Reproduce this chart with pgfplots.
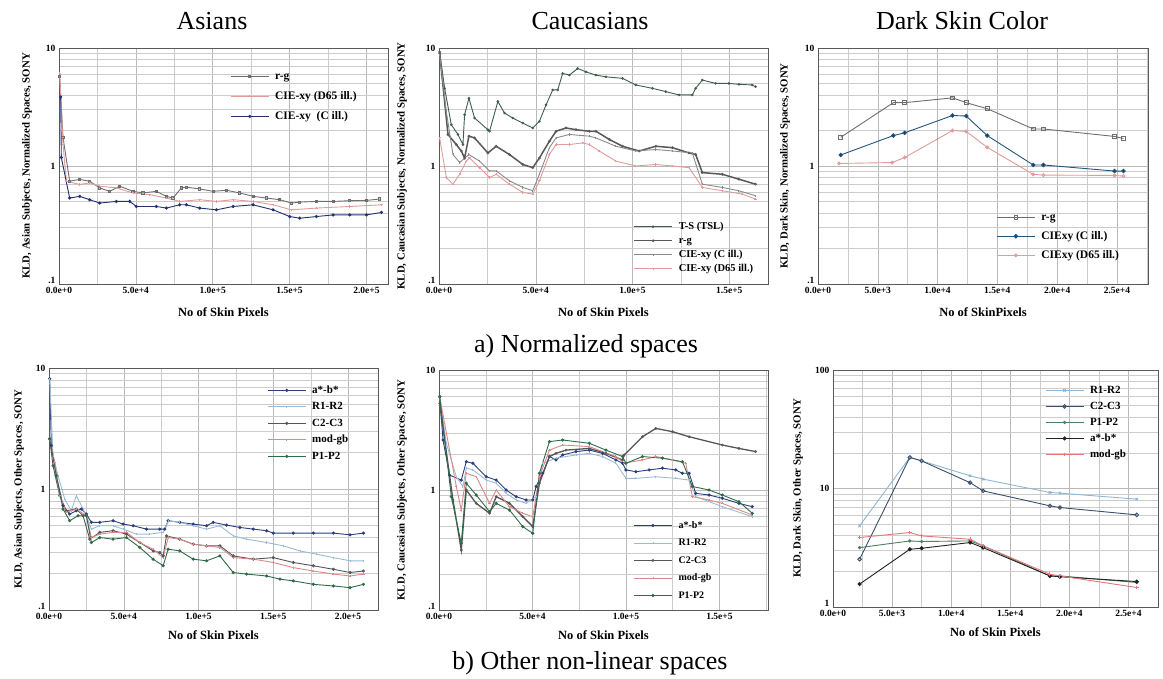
\documentclass[border=0pt]{standalone}
\usepackage{pgfplots}
\pgfplotsset{compat=1.18}
\usepackage{fontspec}
\setmainfont{Liberation Serif}
\definecolor{rgc}{HTML}{6E6E6E}
\definecolor{pinkc}{HTML}{E39A9A}
\definecolor{navyc}{HTML}{22306E}
\definecolor{tsc}{HTML}{3F5E4E}
\definecolor{cillg}{HTML}{8A8A8A}
\definecolor{tealc}{HTML}{23577A}
\definecolor{abc}{HTML}{2B3F7C}
\definecolor{rrc}{HTML}{9CBAD6}
\definecolor{ccc}{HTML}{555555}
\definecolor{modc}{HTML}{D98A8A}
\definecolor{ppc}{HTML}{2E6B47}
\definecolor{brr}{HTML}{8EB6D6}
\definecolor{bcc}{HTML}{3C4E6A}
\definecolor{bpp}{HTML}{4E7D5F}
\definecolor{bab}{HTML}{222222}
\definecolor{bmod}{HTML}{E07878}
\pgfplotsset{/pgf/number format/assume math mode=true}
\pgfplotsset{
 kld/.style={
   scale only axis, anchor=south west,
   axis line style={gray!70!black, line width=0.6pt},
   xmajorgrids, xminorgrids, ymajorgrids, yminorgrids,
   major grid style={gray!55, line width=0.5pt},
   minor grid style={gray!40, line width=0.4pt},
   major tick length=0pt, minor tick length=0pt,
   tick label style={font=\fontsize{9.5}{10}\selectfont\bfseries},
   xlabel style={font=\fontsize{12.5}{13}\selectfont\bfseries, at={(rel axis cs:0.5,0)}, anchor=center},
   ylabel style={font=\fontsize{10.8}{11}\selectfont\bfseries, at={(rel axis cs:0,0.5)}, anchor=center},
   scaled x ticks=false,
   legend cell align=left,
   legend style={draw=none, fill=none, anchor=north west, inner sep=0pt,
     nodes={text height=8pt, text depth=2.5pt, inner sep=1pt},
     /tikz/every odd column/.append style={column sep=5pt}},
   legend image code/.code={\draw[mark repeat=2,mark phase=2] plot coordinates {(0pt,0pt) (19pt,0pt) (38pt,0pt)};},
   every axis plot/.append style={line width=0.9pt, mark size=1.1pt},
 },
 dec01/.style={ymin=0.1, ymax=10, ytick={0.1,1,10}, yticklabels={\raisebox{7pt}{.1},1,10},
   minor ytick={0.2,0.3,0.4,0.5,0.6,0.7,0.8,0.9,2,3,4,5,6,7,8,9}},
}
\begin{document}
\begin{tikzpicture}
\path[use as bounding box] (0,0) rectangle (1163pt,679pt);
\node[font=\fontsize{26}{28}\selectfont, anchor=base] at (212pt,649pt) {Asians};
\node[font=\fontsize{26}{28}\selectfont, anchor=base] at (590pt,649pt) {Caucasians};
\node[font=\fontsize{26}{28}\selectfont, anchor=base] at (962pt,649pt) {Dark Skin Color};
\node[font=\fontsize{26}{28}\selectfont, anchor=base] at (586pt,326pt) {a) Normalized spaces};
\node[font=\fontsize{26}{28}\selectfont, anchor=base] at (590pt,9pt) {b) Other non-linear spaces};

% ---------------- TL
\begin{semilogyaxis}[kld, dec01, at={(59pt,395pt)}, width=329pt, height=236pt,
  xmin=0, xmax=214000,
  xtick={0,50000,100000,150000,200000},
  xticklabels={0.0e+0,5.0e+4,1.0e+5,1.5e+5,2.0e+5},
  minor xtick={25000,75000,125000,175000},
  xlabel={No of Skin Pixels}, xlabel style={yshift=-28pt},
  ylabel={KLD, Asian Subjects, Normalized Spaces, SONY}, ylabel style={yshift=32pt},
  legend style={at={(0.52,0.907)}, font=\fontsize{11.5}{12}\selectfont\bfseries, row sep=7.5pt}]
\addplot[color=rgc, mark=square, mark options={fill=white}] coordinates {
(434,5.71) (2603,1.75) (6941,0.744) (13448,0.769) (19955,0.744) (26462,0.652) (32969,0.61) (39476,0.674) (48152,0.61) (54659,0.591) (63335,0.61) (69842,0.553) (74180,0.535) (79602,0.652) (82856,0.661) (91532,0.639) (100208,0.61) (108884,0.623) (117560,0.591) (126236,0.553) (134912,0.535) (143588,0.518) (151180,0.485) (156602,0.494) (167447,0.501) (178292,0.501) (189137,0.508) (199982,0.511) (208658,0.525)};
\addlegendentry{r-g}
\addplot[color=pinkc, mark=+] coordinates {
(434,6.11) (2603,1.53) (4772,0.744) (13448,0.697) (19955,0.72) (26462,0.674) (37307,0.652) (48152,0.591) (58997,0.572) (69842,0.535) (78518,0.501) (91532,0.518) (102377,0.501) (113222,0.518) (126236,0.501) (139250,0.469) (151180,0.425) (167447,0.44) (189137,0.454) (209742,0.469)};
\addlegendentry{CIE-xy (D65 ill.)}
\addplot[color=navyc, mark=*] coordinates {
(1085,3.85) (1518,1.18) (6941,0.535) (13448,0.553) (19955,0.518) (26462,0.485) (37307,0.501) (45983,0.501) (50321,0.454) (63335,0.454) (69842,0.44) (78518,0.469) (82856,0.469) (91532,0.44) (102377,0.425) (113222,0.454) (126236,0.469) (139250,0.425) (150095,0.373) (156602,0.361) (167447,0.373) (178292,0.385) (189137,0.385) (199982,0.385) (209742,0.404)};
\addlegendentry{CIE-xy\ \ (C ill.)}
\end{semilogyaxis}

% ---------------- TM
\begin{semilogyaxis}[kld, dec01, at={(439pt,395pt)}, width=329pt, height=236pt,
  xmin=0, xmax=170000,
  xtick={0,50000,100000,150000},
  xticklabels={0.0e+0,5.0e+4,1.0e+5,1.5e+5},
  minor xtick={25000,75000,125000},
  xlabel={No of Skin Pixels}, xlabel style={yshift=-28pt},
  ylabel={KLD, Caucasian Subjects, Normalized Spaces, SONY}, ylabel style={yshift=37pt},
  legend style={at={(0.59,0.27)}, font=\fontsize{10.5}{11}\selectfont\bfseries, row sep=1.5pt}]
\addplot[color=tsc, mark=*, mark size=0.8pt] coordinates {
(344,9.25) (2921,4.55) (6357,2.24) (9793,1.85) (12370,1.52) (13229,2.72) (15462,3.75) (18383,2.55) (25255,2.03) (26114,1.97) (30409,3.52) (33845,2.81) (38140,2.55) (43294,2.31) (48448,2.10) (51884,2.39) (55320,3.30) (58756,4.41) (61333,4.41) (63910,6.09) (67346,5.89) (71641,6.70) (75936,6.28) (81090,5.89) (86244,5.70) (94834,5.53) (101706,4.86) (110296,4.55) (117168,4.27) (124040,4.00) (130912,4.00) (132630,4.55) (136066,5.35) (142938,5.01) (149810,5.01) (154964,4.92) (161836,4.86) (163554,4.70)};
\addlegendentry{T-S (TSL)}
\addplot[color=rgc!80!black, line width=1.5pt, mark=o, mark options={fill=white, line width=0.6pt}] coordinates {
(344,8.96) (4639,1.85) (8934,1.52) (11511,1.34) (13229,1.17) (15462,1.79) (18383,1.73) (25255,1.29) (29550,1.47) (36422,1.25) (43294,1.03) (48448,0.968) (51884,1.17) (57038,1.62) (60474,1.97) (65628,2.10) (70782,2.03) (77654,1.97) (81090,1.97) (87962,1.68) (94834,1.47) (103424,1.34) (112014,1.47) (120604,1.43) (129194,1.29) (132630,1.25) (136066,0.879) (146374,0.851) (154964,0.773) (163554,0.701)};
\addlegendentry{r-g}
\addplot[color=cillg, mark=|] coordinates {
(344,8.68) (3780,2.90) (7216,1.25) (10652,1.07) (15462,1.25) (20960,1.10) (26114,0.908) (29550,0.908) (36422,0.748) (43294,0.658) (48448,0.617) (51884,0.851) (57038,1.43) (60474,1.73) (67346,1.85) (77654,1.79) (81090,1.73) (91398,1.47) (101706,1.34) (112014,1.38) (120604,1.34) (130912,1.29) (136066,0.701) (146374,0.658) (154964,0.617) (163554,0.560)};
\addlegendentry{CIE-xy (C ill.)}
\addplot[color=pinkc, mark=+] coordinates {
(344,1.73) (3780,0.798) (7216,0.701) (10652,0.851) (14088,1.10) (15806,1.17) (20960,0.968) (26114,0.798) (29550,0.851) (36422,0.701) (43294,0.597) (48448,0.578) (51884,0.748) (57038,1.25) (60474,1.52) (67346,1.52) (74218,1.57) (77654,1.52) (82808,1.34) (91398,1.10) (101706,1.00) (112014,1.03) (120604,1.00) (129194,0.968) (136066,0.658) (146374,0.617) (156682,0.578) (163554,0.525)};
\addlegendentry{CIE-xy (D65 ill.)}
\end{semilogyaxis}

% ---------------- TR
\begin{semilogyaxis}[kld, dec01, at={(818pt,395pt)}, width=330pt, height=236pt,
  xmin=0, xmax=27600,
  xtick={0,5000,10000,15000,20000,25000},
  xticklabels={0.0e+0,5.0e+3,1.0e+4,1.5e+4,2.0e+4,2.5e+4},
  minor xtick={2500,7500,12500,17500,22500,27500},
  xlabel={No of SkinPixels}, xlabel style={yshift=-28pt},
  ylabel={KLD, Dark Skin, Normalized Spaces, SONY}, ylabel style={yshift=33pt},
  legend style={at={(0.54,0.31)}, font=\fontsize{11.5}{12}\selectfont\bfseries, row sep=6.5pt}]
\addplot[color=rgc, mark=square, mark size=1.8pt, mark options={fill=white}] coordinates {
(1900,1.75) (6300,3.44) (7250,3.44) (11250,3.78) (12400,3.44) (14150,3.06) (18000,2.06) (18850,2.06) (24800,1.78) (25550,1.71)};
\addlegendentry{r-g}
\addplot[color=tealc, mark=*, mark size=1.8pt, mark options={fill=navyc}] coordinates {
(1900,1.24) (6300,1.81) (7250,1.91) (11250,2.68) (12400,2.65) (14150,1.81) (18000,1.02) (18850,1.02) (24800,0.906) (25550,0.906)};
\addlegendentry{CIExy (C ill.)}
\addplot[color=pinkc, mark=o, mark size=1.5pt] coordinates {
(1750,1.05) (6200,1.07) (7250,1.18) (11250,2.00) (12400,1.96) (14150,1.44) (18000,0.849) (18850,0.837) (24800,0.832) (25550,0.821)};
\addlegendentry{CIExy (D65 ill.)}
\end{semilogyaxis}

% ---------------- BL
\begin{semilogyaxis}[kld, dec01, at={(49pt,69pt)}, width=329pt, height=242pt,
  xmin=0, xmax=220000,
  xtick={0,50000,100000,150000,200000},
  xticklabels={0.0e+0,5.0e+4,1.0e+5,1.5e+5,2.0e+5},
  minor xtick={25000,75000,125000,175000},
  xlabel={No of Skin Pixels}, xlabel style={yshift=-25pt},
  ylabel={KLD, Asian Subjects, Other Spaces, SONY}, ylabel style={yshift=30pt},
  legend style={at={(0.663,0.934)}, font=\fontsize{11}{12}\selectfont\bfseries, row sep=4pt}]
\addplot[color=abc, mark=*] coordinates {
(446,8.16) (1562,2.29) (4910,1.29) (9374,0.728) (13838,0.621) (18302,0.661) (21650,0.683) (24998,0.621) (28346,0.530) (33926,0.530) (42854,0.547) (49550,0.513) (56246,0.497) (65174,0.466) (74102,0.466) (77450,0.466) (79682,0.547) (87494,0.530) (96422,0.513) (105350,0.497) (109814,0.530) (118742,0.503) (127670,0.481) (136598,0.466) (145526,0.452) (149990,0.432) (163382,0.432) (176774,0.432) (190166,0.432) (201326,0.418) (210254,0.432)};
\addlegendentry{a*-b*}
\addplot[color=rrc, mark=|] coordinates {
(446,8.16) (2678,1.89) (6026,1.29) (10490,0.827) (14954,0.661) (18302,0.881) (24998,0.601) (28346,0.466) (33926,0.497) (42854,0.497) (49550,0.466) (58478,0.424) (67406,0.424) (76334,0.438) (79682,0.547) (87494,0.530) (96422,0.497) (105350,0.466) (114278,0.497) (123206,0.410) (132134,0.385) (145526,0.361) (156686,0.339) (167846,0.308) (179006,0.289) (190166,0.271) (201326,0.255) (210254,0.255)};
\addlegendentry{R1-R2}
\addplot[color=ccc, mark=o, mark options={fill=white}] coordinates {
(446,2.60) (2678,1.56) (7142,0.881) (11606,0.661) (18302,0.683) (22766,0.601) (27230,0.385) (33926,0.438) (42854,0.452) (51782,0.424) (60710,0.361) (69638,0.308) (74102,0.299) (76334,0.280) (78566,0.410) (87494,0.385) (96422,0.350) (105350,0.339) (114278,0.339) (123206,0.280) (136598,0.263) (149990,0.271) (163382,0.247) (176774,0.232) (190166,0.217) (201326,0.204) (210254,0.210)};
\addlegendentry{C2-C3}
\addplot[color=modc, mark=+] coordinates {
(446,2.60) (3794,1.66) (7142,0.881) (11606,0.641) (18302,0.683) (24998,0.601) (28346,0.397) (33926,0.424) (42854,0.438) (51782,0.438) (60710,0.361) (69638,0.318) (76334,0.271) (79682,0.397) (87494,0.385) (96422,0.350) (105350,0.339) (114278,0.329) (123206,0.271) (136598,0.263) (149990,0.247) (163382,0.224) (176774,0.210) (190166,0.198) (201326,0.191) (210254,0.198)};
\addlegendentry{mod-gb}
\addplot[color=ppc, mark=*] coordinates {
(446,2.60) (4910,1.29) (9374,0.683) (13838,0.547) (19418,0.601) (24998,0.601) (28346,0.361) (33926,0.397) (42854,0.385) (51782,0.397) (60710,0.329) (69638,0.263) (76334,0.232) (79682,0.318) (87494,0.308) (96422,0.263) (105350,0.255) (114278,0.280) (123206,0.204) (132134,0.198) (145526,0.191) (154454,0.180) (163382,0.174) (176774,0.163) (190166,0.158) (201326,0.153) (210254,0.163)};
\addlegendentry{P1-P2}
\end{semilogyaxis}

% ---------------- BM
\begin{semilogyaxis}[kld, dec01, at={(439pt,69pt)}, width=329pt, height=240pt,
  xmin=0, xmax=176000,
  xtick={0,50000,100000,150000},
  xticklabels={0.0e+0,5.0e+4,1.0e+5,1.5e+5},
  minor xtick={25000,75000,125000,175000},
  xlabel={No of Skin Pixels}, xlabel style={yshift=-25pt},
  ylabel={KLD, Caucasian Subjects, Other Spaces, SONY}, ylabel style={yshift=37pt},
  legend style={at={(0.59,0.379)}, font=\fontsize{10}{11}\selectfont\bfseries, row sep=5pt}]
\addplot[color=abc, mark=*] coordinates {
(356,6.00) (2135,2.61) (5693,1.33) (11919,1.21) (14588,1.72) (18146,1.67) (25262,1.29) (30599,1.21) (35936,1.00) (41273,0.880) (46610,0.826) (50168,0.826) (51947,1.07) (55505,1.38) (59063,1.90) (62621,1.78) (66179,1.96) (73295,2.09) (80411,2.15) (87527,2.02) (94644,1.78) (98202,1.67) (99981,1.47) (105317,1.42) (112434,1.47) (119550,1.52) (126667,1.47) (130224,1.38) (133783,1.38) (137342,0.938) (144458,0.908) (151570,0.853) (160460,0.774) (167580,0.726)};
\addlegendentry{a*-b*}
\addplot[color=rrc, mark=|] coordinates {
(356,6.00) (3914,2.45) (9251,1.29) (12809,1.07) (14588,1.52) (18146,1.47) (25262,1.21) (30599,1.14) (35936,0.938) (41273,0.826) (46610,0.774) (51947,0.880) (55505,1.67) (62621,1.84) (73295,1.96) (80411,2.02) (87527,1.90) (94644,1.67) (99981,1.25) (105317,1.25) (115992,1.29) (126667,1.25) (133783,1.21) (137342,0.880) (151570,0.726) (167580,0.599)};
\addlegendentry{R1-R2}
\addplot[color=ccc, line width=1.3pt, mark=o, mark options={fill=white, line width=0.6pt}] coordinates {
(356,5.27) (7472,0.826) (11919,0.316) (14588,1.00) (19925,0.774) (27041,0.640) (30599,0.880) (37715,0.774) (44831,0.599) (50168,0.495) (53726,1.14) (59063,1.90) (62621,2.02) (67958,2.15) (80411,2.22) (89306,2.02) (98202,1.78) (99091,1.96) (108875,2.78) (115992,3.26) (124888,3.06) (133783,2.78) (151570,2.37) (160460,2.22) (169360,2.09)};
\addlegendentry{C2-C3}
\addplot[color=modc, mark=+] coordinates {
(356,6.00) (9251,1.07) (11919,0.681) (14588,1.38) (19925,1.29) (27041,0.774) (30599,1.00) (37715,0.726) (44831,0.640) (50168,0.599) (53726,1.29) (59063,2.15) (66179,2.37) (80411,2.30) (94644,1.90) (99091,1.67) (108875,1.78) (115992,1.90) (124888,1.78) (132004,1.67) (135560,0.880) (144458,0.826) (151570,0.774) (167580,0.619)};
\addlegendentry{mod-gb}
\addplot[color=ppc, mark=*] coordinates {
(356,6.00) (6582,0.880) (11919,0.359) (14588,1.14) (19925,0.908) (27041,0.660) (30599,0.774) (37715,0.681) (44831,0.495) (50168,0.435) (53726,1.38) (59063,2.53) (66179,2.61) (80411,2.45) (89306,2.15) (98202,1.90) (99981,1.67) (108875,1.90) (119550,1.84) (130224,1.72) (135560,1.07) (144458,1.00) (151570,0.908) (160460,0.799) (167580,0.640)};
\addlegendentry{P1-P2}
\end{semilogyaxis}

% ---------------- BR
\begin{semilogyaxis}[kld, at={(833pt,72pt)}, width=325pt, height=237pt,
  ymin=1, ymax=100, ytick={1,10,100}, yticklabels={\raisebox{7pt}{1},10,100},
  minor ytick={2,3,4,5,6,7,8,9,20,30,40,50,60,70,80,90},
  xmin=0, xmax=27500,
  xtick={0,5000,10000,15000,20000,25000},
  xticklabels={0.0e+0,5.0e+3,1.0e+4,1.5e+4,2.0e+4,2.5e+4},
  minor xtick={2500,7500,12500,17500,22500},
  xlabel={No of Skin Pixels}, xlabel style={yshift=-25pt},
  ylabel={KLD, Dark Skin, Other Spaces, SONY}, ylabel style={yshift=35pt},
  legend style={at={(0.652,0.941)}, font=\fontsize{11}{12}\selectfont\bfseries, row sep=3.5pt}]
\addplot[color=brr, mark=x, mark size=1.8pt] coordinates {
(2250,4.84) (6500,18.3) (7500,17.1) (11600,12.8) (12700,12.0) (18350,9.25) (19200,9.14) (25700,8.13)};
\addlegendentry{R1-R2}
\addplot[color=bcc, mark=o, mark size=1.8pt, mark options={fill=white}] coordinates {
(2250,2.53) (6500,18.3) (7500,17.1) (11600,11.2) (12700,9.55) (18350,7.14) (19200,6.91) (25700,5.99)};
\addlegendentry{C2-C3}
\addplot[color=bpp, mark=*, mark size=1.2pt] coordinates {
(2250,3.17) (6500,3.61) (7500,3.57) (11600,3.61) (12700,3.28) (18350,1.83) (19200,1.83) (25700,1.61)};
\addlegendentry{P1-P2}
\addplot[color=bab, mark=*, mark size=1.6pt] coordinates {
(2250,1.56) (6500,3.07) (7500,3.13) (11600,3.50) (12700,3.17) (18350,1.83) (19200,1.80) (25700,1.64)};
\addlegendentry{a*-b*}
\addplot[color=bmod, mark=+, mark size=1.8pt] coordinates {
(2250,3.86) (6500,4.25) (7500,3.98) (11600,3.73) (12700,3.28) (18350,1.89) (19200,1.83) (25700,1.46)};
\addlegendentry{mod-gb}
\end{semilogyaxis}
\end{tikzpicture}
\end{document}
